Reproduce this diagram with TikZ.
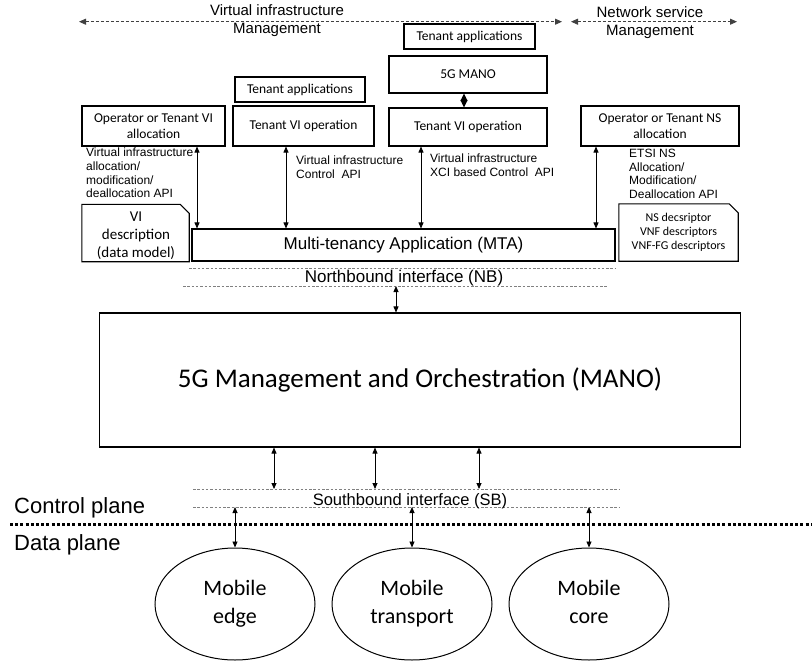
\documentclass[tikz,border=0pt]{standalone}
\usepackage{fontspec}
\setmainfont{Liberation Sans}
\newfontfamily\calibfont{Carlito}
\usetikzlibrary{calc,arrows.meta,shapes.geometric}

\tikzset{
  box/.style={draw, rectangle, line width=1.1pt, inner sep=0pt, align=center,
    font=\calibfont\fontsize{13.5}{16}\selectfont},
  dbl/.style={{Triangle[length=6pt,width=5pt]}-{Triangle[length=6pt,width=5pt]}, line width=0.8pt},
  iface/.style={gray, line width=0.7pt, dash pattern=on 2.5pt off 1.8pt},
  mgmt/.style={darkgray, line width=0.8pt, dash pattern=on 3pt off 2pt,
    {Triangle[length=7pt,width=6pt]}-{Triangle[length=7pt,width=6pt]}},
  toplbl/.style={anchor=north, align=center, inner sep=0pt, font=\fontsize{15}{18.5}\selectfont},
  api/.style={anchor=north west, align=left, inner sep=0pt, font=\fontsize{12}{13.7}\selectfont},
  plane/.style={anchor=base west, inner sep=0pt, font=\fontsize{22}{26}\selectfont},
  mobdomain/.style={draw, ellipse, line width=1pt, inner sep=0pt, minimum width=160pt,
    minimum height=112pt, align=center, font=\calibfont\fontsize{22}{28}\selectfont}
}

\begin{document}
\begin{tikzpicture}[x=1pt, y=-1pt]
\useasboundingbox (0,0) rectangle (812,662);

% Management scopes
\node[toplbl] (vimgmt) at (277,4) {Virtual infrastructure\\Management};
\node[toplbl] (nsmgmt) at (650,6) {Network service\\Management};
\coordinate (vil) at (79,21.7);
\coordinate (vir) at (562,21.7);
\coordinate (nsl) at (571,21.7);
\coordinate (nsr) at (737,21.7);
\draw[mgmt] (vil) -- (vir);
\draw[mgmt] (nsl) -- (nsr);

% Tenant side blocks
\node[box, minimum width=143pt, minimum height=40pt] (opvi) at (153.5,126) {Operator or Tenant VI\\allocation};
\node[box, minimum width=130pt, minimum height=25pt] (tapp1) at (300,89.5) {Tenant applications};
\node[box, minimum width=141pt, minimum height=40pt] (tviop1) at (303.5,126) {Tenant VI operation};
\node[box, minimum width=131pt, minimum height=25pt] (tapp2) at (469.5,36.5) {Tenant applications};
\node[box, minimum width=158pt, minimum height=37pt] (mano5g) at (468,74.5) {5G MANO};
\node[box, minimum width=158pt, minimum height=38pt] (tviop2) at (468,127) {Tenant VI operation};
\node[box, minimum width=158pt, minimum height=40pt] (opns) at (660,126) {Operator or Tenant NS\\allocation};
\coordinate (cm) at (464,0);
\draw[{Triangle[length=7.5pt,width=7pt]}-{Triangle[length=7.5pt,width=7pt]}, line width=0.8pt]
  (mano5g.south -| cm) -- (tviop2.north -| cm);

% Multi-tenancy application
\node[box, minimum width=423pt, minimum height=32pt, font=\fontsize{17}{20}\selectfont] (mta) at (403.5,245) {Multi-tenancy Application (MTA)};

% Descriptors
\node[inner sep=0pt, minimum width=107pt, minimum height=57pt, align=center,
  font=\calibfont\fontsize{15}{18}\selectfont] (videsc) at (135.5,233) {};
\node[align=center, inner sep=0pt, font=\calibfont\fontsize{15}{18}\selectfont]
  (videsctxt) at (136,236) {\strut VI\\description\\(data model)\strut};
\draw[line width=1.1pt] (videsc.south west) |- ($(videsc.north east)+(-9,0)$)
  -- ($(videsc.north east)+(0,9)$) |- (videsc.south west) -- cycle;
\node[inner sep=0pt, minimum width=119pt, minimum height=57pt, align=center,
  font=\calibfont\fontsize{12}{14}\selectfont] (nsdesc) at (678.5,232.5) {NS decsriptor\\VNF descriptors\\VNF-FG descriptors};
\draw[line width=1.1pt] (nsdesc.south west) |- ($(nsdesc.north east)+(-9,0)$)
  -- ($(nsdesc.north east)+(0,9)$) |- (nsdesc.south west) -- cycle;

% APIs towards MTA
\coordinate (c1) at (197,0);
\coordinate (c2) at (286,0);
\coordinate (c3) at (421,0);
\coordinate (c4) at (596,0);
\draw[dbl] (opvi.south -| c1) -- (mta.north -| c1);
\draw[dbl] (tviop1.south -| c2) -- (mta.north -| c2);
\draw[dbl] (tviop2.south -| c3) -- (mta.north -| c3);
\draw[dbl] (opns.south -| c4) -- (mta.north -| c4);
\node[api] (apivi) at (86,148) {Virtual infrastructure\\allocation/\\modification/\\deallocation API};
\node[api] (apictl) at (296,156) {Virtual infrastructure\\Control\ \ API};
\node[api] (apixci) at (430,154) {Virtual infrastructure\\XCI based Control\ \ API};
\node[api] (apins) at (629,149) {ETSI NS\\Allocation/\\Modification/\\Deallocation API};

% Northbound interface
\coordinate (nb1a) at (189,268);
\coordinate (nb1b) at (615,268);
\coordinate (nb2a) at (183,286);
\coordinate (nb2b) at (608,286);
\draw[iface] (nb1a) -- (nb1b);
\draw[iface] (nb2a) -- (nb2b);
\node[anchor=base, inner sep=0pt, font=\fontsize{17}{20}\selectfont] (nb) at (404,282) {Northbound interface (NB)};

% MANO
\node[box, minimum width=641pt, minimum height=134pt, font=\calibfont\fontsize{27}{32}\selectfont] (mano) at (420,380) {5G Management and Orchestration (MANO)};
\coordinate (c5) at (396,0);
\draw[dbl] (nb2a -| c5) -- (mano.north -| c5);

% Southbound interface
\coordinate (sb1a) at (193,489);
\coordinate (sb1b) at (619,489);
\coordinate (sb2a) at (193,507);
\coordinate (sb2b) at (619,507);
\draw[iface] (sb1a) -- (sb1b);
\draw[iface] (sb2a) -- (sb2b);
\node[anchor=base, inner sep=0pt, font=\fontsize{16.5}{20}\selectfont] (sb) at (410,505) {Southbound interface (SB)};
\foreach \x in {274,375,479}
  \draw[dbl] (mano.south -| \x,0) -- (sb1a -| \x,0);

% Planes
\node[plane] (cplane) at (14,513) {Control plane};
\node[plane] (dplane) at (14,550) {Data plane};
\coordinate (pl) at (10,524);
\coordinate (pr) at (812,524);
\draw[line width=3pt, dash pattern=on 3pt off 2.2pt] (pl) -- (pr);

% Mobile domains
\node[mobdomain] (medge) at (235,604) {\strut Mobile\\edge\strut};
\node[mobdomain] (mtransport) at (412,604) {\strut Mobile\\transport\strut};
\node[mobdomain] (mcore) at (589,604) {\strut Mobile\\core\strut};
\draw[dbl] (sb2a -| medge.north) -- (medge.north);
\draw[dbl] (sb2a -| mtransport.north) -- (mtransport.north);
\draw[dbl] (sb2a -| mcore.north) -- (mcore.north);
\end{tikzpicture}
\end{document}
